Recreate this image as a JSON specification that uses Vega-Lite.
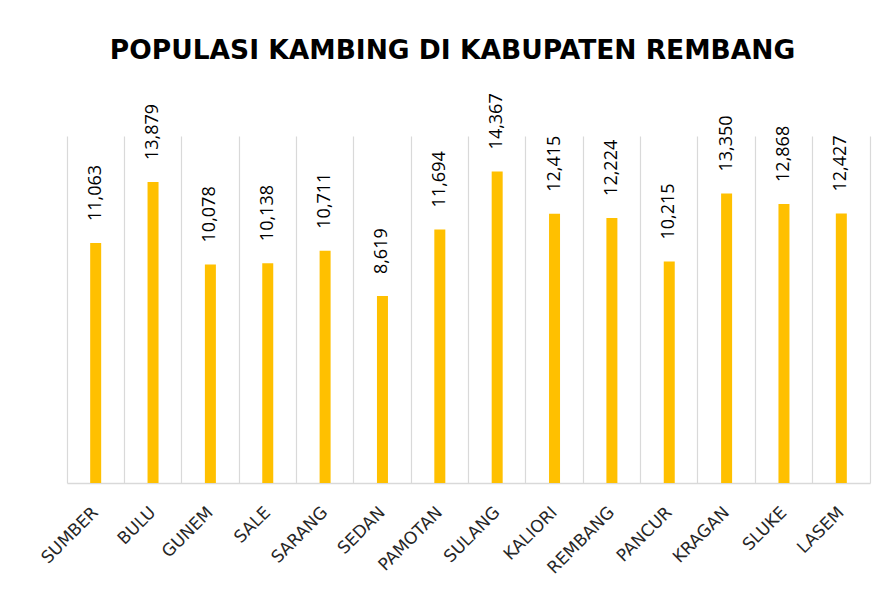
{
  "$schema": "https://vega.github.io/schema/vega-lite/v6.json",
  "width": 803,
  "height": 347,
  "autosize": {"type": "none"},
  "padding": {"left": 67, "top": 136, "right": 20, "bottom": 123},
  "background": "white",
  "title": {
    "text": "POPULASI KAMBING DI KABUPATEN REMBANG",
    "font": "DejaVu Sans",
    "fontSize": 26.5,
    "fontWeight": "bold",
    "color": "#000000",
    "anchor": "middle",
    "baseline": "alphabetic",
    "offset": 8,
    "dx": -16
  },
  "data": {
    "values": [
      {"kecamatan": "SUMBER", "populasi": 11063},
      {"kecamatan": "BULU", "populasi": 13879},
      {"kecamatan": "GUNEM", "populasi": 10078},
      {"kecamatan": "SALE", "populasi": 10138},
      {"kecamatan": "SARANG", "populasi": 10711},
      {"kecamatan": "SEDAN", "populasi": 8619},
      {"kecamatan": "PAMOTAN", "populasi": 11694},
      {"kecamatan": "SULANG", "populasi": 14367},
      {"kecamatan": "KALIORI", "populasi": 12415},
      {"kecamatan": "REMBANG", "populasi": 12224},
      {"kecamatan": "PANCUR", "populasi": 10215},
      {"kecamatan": "KRAGAN", "populasi": 13350},
      {"kecamatan": "SLUKE", "populasi": 12868},
      {"kecamatan": "LASEM", "populasi": 12427}
    ]
  },
  "encoding": {
    "x": {
      "field": "kecamatan",
      "type": "nominal",
      "sort": null,
      "scale": {"paddingInner": 0, "paddingOuter": 0},
      "axis": {
        "title": null,
        "labels": false,
        "ticks": false,
        "grid": true,
        "gridColor": "#d9d9d9",
        "gridWidth": 1.2,
        "bandPosition": 0,
        "domainColor": "#d9d9d9",
        "domainWidth": 1.5
      }
    },
    "y": {
      "field": "populasi",
      "type": "quantitative",
      "scale": {"domain": [0, 16000]},
      "axis": {
        "orient": "right",
        "title": null,
        "labels": false,
        "ticks": false,
        "grid": false,
        "domain": true,
        "domainColor": "#d9d9d9",
        "domainWidth": 1.2
      }
    }
  },
  "layer": [
    {"mark": {"type": "bar", "color": "#FFC000", "size": 11}},
    {
      "mark": {
        "type": "text",
        "angle": 270,
        "align": "left",
        "baseline": "middle",
        "dx": 22,
        "font": "Open Sans",
        "fontSize": 18,
        "color": "#000000"
      },
      "encoding": {"text": {"field": "populasi", "type": "quantitative", "format": ","}}
    },
    {
      "mark": {
        "type": "text",
        "angle": 315,
        "align": "right",
        "baseline": "middle",
        "font": "DejaVu Sans",
        "fontSize": 17,
        "color": "#262626",
        "xOffset": 0,
        "yOffset": 27
      },
      "encoding": {
        "y": {"datum": 0},
        "text": {"field": "kecamatan", "type": "nominal"}
      }
    }
  ],
  "config": {
    "view": {"stroke": null}
  }
}
